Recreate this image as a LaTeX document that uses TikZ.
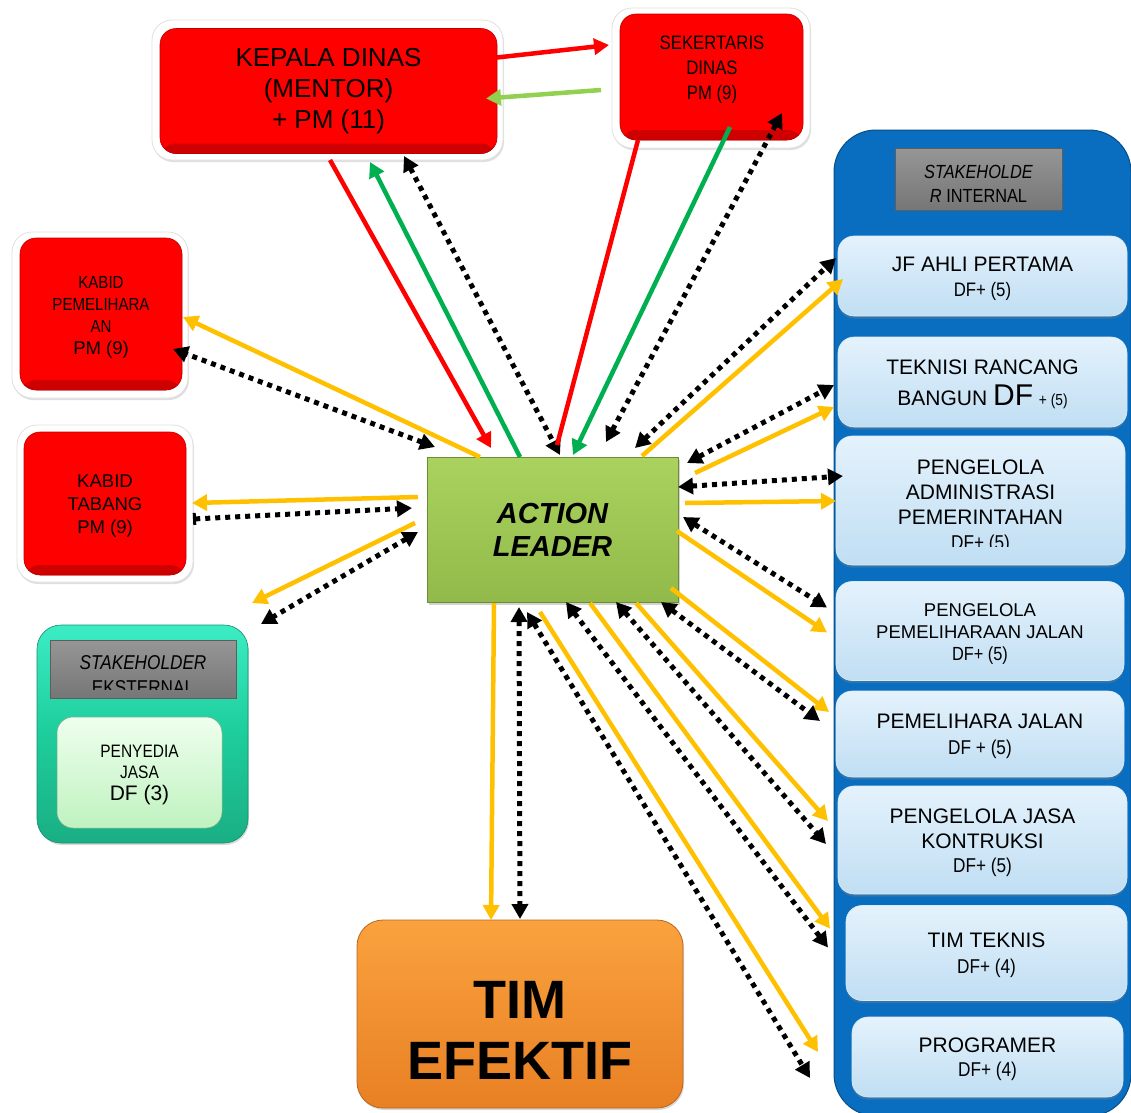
\documentclass[tikz,border=0pt]{standalone}
\usepackage{fontspec}
\setmainfont{Liberation Sans}
\newfontfamily\nar[FakeStretch=0.86]{Liberation Sans}
\usetikzlibrary{arrows.meta,shadows,calc}
\definecolor{cred}{RGB}{255,0,0}
\definecolor{cgrn}{RGB}{0,176,80}
\definecolor{clgrn}{RGB}{146,208,80}
\definecolor{cora}{RGB}{255,192,0}
\definecolor{algt}{RGB}{170,210,94}
\definecolor{algb}{RGB}{146,186,74}
\definecolor{teot}{RGB}{250,162,62}
\definecolor{teob}{RGB}{232,128,36}
\definecolor{sib}{RGB}{10,110,192}
\definecolor{lbt}{RGB}{228,242,252}
\definecolor{lbb}{RGB}{192,222,243}
\definecolor{ctl}{RGB}{30,205,155}
\definecolor{ctlt}{RGB}{60,236,196}
\definecolor{pyt}{RGB}{238,255,238}
\definecolor{pyb}{RGB}{192,242,192}
\definecolor{hgt}{RGB}{150,150,150}
\definecolor{hgb}{RGB}{118,118,118}
\newcommand\fsz[2]{\fontsize{#1}{#2}\selectfont}
\tikzset{
 base/.style={inner sep=0pt, outer sep=0pt, align=center},
 frame/.style={base, fill=white, draw=black!12, line width=0.8pt, rounded corners=20pt, drop shadow={opacity=0.25, shadow xshift=1pt, shadow yshift=-2pt}},
 redbox/.style={base, rounded corners=16pt, fill=cred, draw=cred!75!black, line width=0.6pt,
   path picture={\fill[top color=cred, bottom color=cred!80!black] ([yshift=10pt]path picture bounding box.south west) rectangle (path picture bounding box.south east);}},
 lbox/.style={base, rounded corners=16pt, top color=lbt, bottom color=lbb, draw=lbb!60!white, line width=0.6pt, drop shadow={opacity=0.35, shadow xshift=0pt, shadow yshift=-2.5pt}},
 hdr/.style={base, top color=hgt, bottom color=hgb, draw=hgb!80!black, line width=0.6pt},
 txt/.style={base},
 ln/.style={line width=4.5pt},
 rd/.style={ln, draw=cred, ->},
 gr/.style={ln, draw=cgrn, ->},
 lg/.style={ln, draw=clgrn, ->},
 og/.style={ln, draw=cora, ->},
 dt/.style={line width=5pt, draw=black, dash pattern=on 5pt off 5pt, <->},
}
\begin{document}
\begin{tikzpicture}[x=1pt,y=-1pt,>={Triangle[length=15pt,width=16pt]}]
\useasboundingbox (0,0) rectangle (1131,1112);
% ---------- red boxes ----------
\node[frame, minimum width=351pt, minimum height=140pt] (kdo) at (327.5,90) {};
\node[redbox, minimum width=337pt, minimum height=125pt, font=\fsz{26}{31}] (kd) at (328.5,91) {KEPALA DINAS\\(MENTOR)\\+ PM (11)};
\node[frame, minimum width=198pt, minimum height=140pt] (sdo) at (711,78) {};
\node[redbox, minimum width=183pt, minimum height=126pt] (sd) at (711.5,77) {};
\node[txt, font=\nar\fsz{19.5}{25}] (sdt) at (712,69.5) {SEKERTARIS\\DINAS\\PM (9)};
\node[frame, minimum width=176pt, minimum height=166pt] (kpo) at (100,315) {};
\node[redbox, minimum width=162pt, minimum height=152pt] (kp) at (101,314) {};
\node[txt, font=\nar\fsz{17.5}{22}] (kpt) at (101,317.5) {KABID\\PEMELIHARA\\AN\\{\fsz{18.5}{22.5}\normalfont PM (9)}};
\node[frame, minimum width=176pt, minimum height=157pt] (kto) at (105,503.5) {};
\node[redbox, minimum width=162pt, minimum height=143pt] (kt) at (105,503.5) {};
\node[txt, font=\fsz{18.5}{23}] (ktt) at (105,506) {KABID\\TABANG\\PM (9)};
% ---------- stakeholder eksternal ----------
\node[base, rounded corners=24pt, top color=ctlt, bottom color=ctl!85!black, middle color=ctl, draw=ctl!70!black, line width=0.6pt, minimum width=211pt, minimum height=218pt, drop shadow={opacity=0.3, shadow xshift=1pt, shadow yshift=-2pt}] (se) at (142.5,734) {};
\node[hdr, minimum width=186pt, minimum height=58pt] (seh) at (143,669) {};
\begin{scope}
\clip (51,641) rectangle (235,689);
\node[txt, font=\nar\fsz{20}{25}] (seht) at (143,675) {\textit{STAKEHOLDER}\\EKSTERNAL};
\end{scope}
\node[base, rounded corners=16pt, top color=pyt, bottom color=pyb, draw=pyb!70!black, line width=0.5pt, minimum width=165pt, minimum height=111pt] (py) at (139.5,772.5) {};
\node[txt, font=\nar\fsz{18}{21.5}] (pyt) at (139.5,774.5) {PENYEDIA\\JASA\\{\normalfont\fsz{21}{22}DF (3)}};
% ---------- action leader ----------
\node[base, top color=algt, bottom color=algb, draw=algb!75!black, line width=0.8pt, minimum width=251pt, minimum height=145pt, font=\bfseries\itshape\fsz{29}{33}, drop shadow={opacity=0.35, shadow xshift=2pt, shadow yshift=-3pt}] (al) at (552.5,529.5) {ACTION\\LEADER};
% ---------- tim efektif ----------
\node[base, rounded corners=26pt, top color=teot, bottom color=teob, draw=teob!80!black, line width=0.8pt, minimum width=326pt, minimum height=188pt, drop shadow={opacity=0.3, shadow xshift=1pt, shadow yshift=-2pt}] (te) at (520,1014) {};
\node[txt, font=\bfseries\fsz{54}{61}] (tet) at (520,1030) {TIM\\EFEKTIF};
% ---------- stakeholder internal ----------
\node[base, rounded corners=42pt, fill=sib, draw=sib!70!black, line width=1pt, minimum width=297pt, minimum height=986pt] (si) at (982.5,623) {};
\node[hdr, minimum width=167pt, minimum height=62pt] (sih) at (978.5,179) {};
\node[txt, font=\nar\fsz{19}{24}] (siht) at (978.5,184) {\textit{STAKEHOLDE}\\\textit{R} INTERNAL};
\node[lbox, minimum width=289pt, minimum height=80pt] (b1) at (982.5,276) {};
\node[txt, font=\fsz{21}{25}] (b1t) at (982.5,279) {JF AHLI PERTAMA\\{\nar\fsz{19.5}{25}DF+ (5)}};
\node[lbox, minimum width=289pt, minimum height=90pt] (b2) at (982.5,382) {};
\node[txt, font=\fsz{21}{25}] (b2t) at (982.5,384) {TEKNISI RANCANG\\[6pt]BANGUN {\fsz{30}{25}DF} {\nar\fsz{16}{25}+ (5)}};
\node[lbox, minimum width=289pt, minimum height=129pt] (b3) at (980.5,500.5) {};
\begin{scope}
\clip (836,436) rectangle (1125,546);
\node[txt, font=\fsz{21}{25}] (b3t) at (980.5,507) {PENGELOLA\\ADMINISTRASI\\PEMERINTAHAN\\{\nar\fsz{20}{25}DF+ (5)}};
\end{scope}
\node[lbox, minimum width=288pt, minimum height=99pt] (b4) at (980,631) {};
\node[txt, font=\fsz{18.5}{22}] (b4t) at (980,633.5) {PENGELOLA\\PEMELIHARAAN JALAN\\{\nar\fsz{19}{22}DF+ (5)}};
\node[lbox, minimum width=288pt, minimum height=86pt] (b5) at (980,734) {};
\node[txt, font=\fsz{21}{26}] (b5t) at (980,736) {PEMELIHARA JALAN\\{\nar\fsz{20}{26}DF + (5)}};
\node[lbox, minimum width=289pt, minimum height=108pt] (b6) at (982.5,840) {};
\node[txt, font=\fsz{21}{24.5}] (b6t) at (982.5,843) {PENGELOLA JASA\\KONTRUKSI\\{\nar\fsz{20}{24.5}DF+ (5)}};
\node[lbox, minimum width=281pt, minimum height=95pt] (b7) at (986.5,953) {};
\node[txt, font=\fsz{21}{26}] (b7t) at (986.5,955) {TIM TEKNIS\\{\nar\fsz{20}{26}DF+ (4)}};
\node[lbox, minimum width=271pt, minimum height=80pt] (b8) at (987.5,1057) {};
\node[txt, font=\fsz{21}{24}] (b8t) at (987.5,1059) {PROGRAMER\\{\nar\fsz{20}{24}DF+ (4)}};
% ---------- connectors: kepala dinas / sekertaris ----------
\draw[rd] ($(kdo.south west)+(178,0)$) -- ($(al.north west)+(64,-9)$);
\draw[gr] ($(al.north west)+(93,0)$) -- ($(kdo.south west)+(218,2)$);
\draw[dt] ($(kdo.south west)+(252,-4)$) -- ($(al.north west)+(133,-2)$);
\draw[rd] ($(kd.north east)+(0,29)$) -- ($(sdo.north west)+(-3,37)$);
\draw[lg] ($(sdo.north west)+(-11,82)$) -- ($(kd.north east)+(-11,70)$);
\draw[ln, draw=cred] ($(sd.south west)+(18,0)$) -- ($(al.north west)+(130,-12)$);
\draw[gr] ($(sd.south west)+(110,-13)$) -- ($(al.north west)+(146,-2)$);
\draw[dt] ($(al.north west)+(179,-15)$) -- ($(sd.south west)+(162,-27)$);
% ---------- connectors: stakeholder internal ----------
\draw[dt] ($(al.north west)+(208,-9)$) -- ($(b1.north west)+(-2,22)$);
\draw[og] ($(al.north west)+(215,-1)$) -- ($(b1.north west)+(5,43)$);
\draw[dt] ($(al.north east)+(9,6)$) -- ($(b2.north west)+(-4,48)$);
\draw[og] ($(al.north east)+(17,16)$) -- ($(b2.north west)+(-4,70)$);
\draw[dt] ($(al.north east)+(0,30)$) -- ($(b3.north west)+(7,40)$);
\draw[og] ($(al.north east)+(7,46)$) -- ($(b3.north west)+(0,65)$);
\draw[dt] ($(al.north east)+(5,60)$) -- ($(b4.north west)+(-9,26)$);
\draw[og] ($(al.north east)+(-1,74)$) -- ($(b4.north west)+(-9,51)$);
\draw[og] ($(al.south east)+(-7,-14)$) -- ($(b5.north west)+(-7,21)$);
\draw[dt] ($(al.south east)+(-17,0)$) -- ($(b5.north west)+(-16,30)$);
\draw[og] ($(al.south east)+(-42,1)$) -- ($(b6.north west)+(-10,35)$);
\draw[dt] ($(al.south east)+(-62,0)$) -- ($(b6.north west)+(-12,58)$);
\draw[og] ($(al.south west)+(163,1)$) -- ($(b7.north west)+(-16,23)$);
\draw[dt] ($(al.south west)+(139,0)$) -- ($(b7.north west)+(-18,42)$);
\draw[og] ($(al.south west)+(113,10)$) -- ($(b8.north west)+(-34,35)$);
\draw[dt] ($(al.south west)+(100,10)$) -- ($(b8.north west)+(-42,61)$);
% ---------- tim efektif ----------
\draw[og] ($(al.south west)+(67,1)$) -- ($(te.north west)+(134,0)$);
\draw[dt] ($(al.south west)+(92,5)$) -- ($(te.north west)+(163,-1)$);
% ---------- left side ----------
\draw[og] ($(al.north west)+(53,0)$) -- ($(kpo.north east)+(-5,85)$);
\draw[dt] ($(al.north west)+(8,-10)$) -- ($(kpo.north east)+(-15,117)$);
\draw[og] ($(al.north west)+(-9,40)$) -- ($(kto.north east)+(-1,78)$);
\draw[line width=5pt, draw=black, dash pattern=on 5pt off 5pt, {Bar[width=12pt,line width=3pt]}->] ($(kto.north east)+(0,94)$) -- ($(al.north west)+(-15,51)$);
\draw[og] ($(al.north west)+(-12,66)$) -- ($(se.north east)+(4,-22)$);
\draw[dt] ($(al.north west)+(-9,75)$) -- ($(se.north east)+(13,-1)$);
\end{tikzpicture}
\end{document}
